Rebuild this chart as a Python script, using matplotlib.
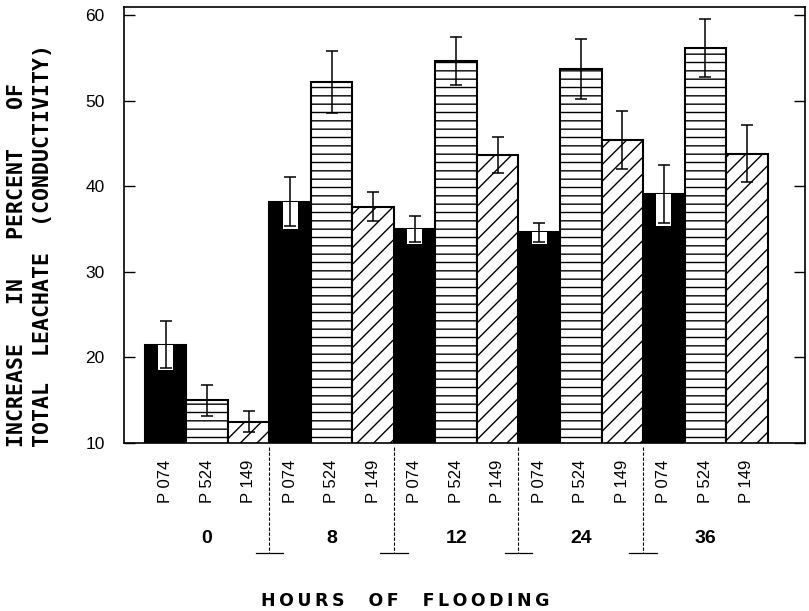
import matplotlib
matplotlib.use("Agg")
import matplotlib.pyplot as plt
import matplotlib.transforms as mtransforms

# data
hours = ["0", "8", "12", "24", "36"]
lines = ["P 074", "P 524", "P 149"]
p074 = [21.5, 38.2, 35.0, 34.6, 39.1]
p524 = [15.0, 52.2, 54.6, 53.7, 56.1]
p149 = [12.5, 37.6, 43.6, 45.4, 43.8]
p074_err = [2.7, 2.9, 1.5, 1.1, 3.4]
p524_err = [1.8, 3.6, 2.8, 3.5, 3.4]
p149_err = [1.2, 1.7, 2.1, 3.4, 3.3]

series = [p074, p524, p149]
errors = [p074_err, p524_err, p149_err]
hatches = [None, "--", "//"]
faces = ["black", "white", "white"]

plt.rcParams["hatch.linewidth"] = 1.0
plt.rcParams["font.family"] = "Liberation Sans"

fig = plt.figure(figsize=(8.09, 6.11), dpi=100)
ax = fig.add_axes([124/809, 168/611, 681/809, 436/611])

ng = len(hours)
ns = len(lines)
for j in range(ns):
    xs = [g*ns + j for g in range(ng)]
    ax.bar(xs, series[j], width=1.0, bottom=0, color=faces[j], edgecolor="black",
           hatch=hatches[j], linewidth=1.5, zorder=2)
    if j == 0:
        # white window behind the lower half of the error bar on solid bars
        low = [v - e - 0.3 for v, e in zip(series[j], errors[j])]
        ax.bar(xs, [v - l for v, l in zip(series[j], low)], width=0.36, bottom=low,
               color="white", edgecolor="none", zorder=3)
    ax.errorbar(xs, series[j], yerr=errors[j], fmt="none", ecolor="black",
                elinewidth=1.1, capsize=4, capthick=1.1, zorder=4)

ax.set_xlim(-1.0, 15.4)
ax.set_ylim(10, 60.93)
ax.set_yticks([10, 20, 30, 40, 50, 60])
ax.tick_params(axis="y", direction="in", length=8, width=1, right=True,
               labelsize=12.5, pad=14)
ax.set_xticks(range(ng*ns))
ax.set_xticklabels(lines*ng, rotation=90, fontsize=12, va="top")
ax.tick_params(axis="x", length=0, pad=12)
for s in ax.spines.values():
    s.set_linewidth(1.2)

trans = mtransforms.blended_transform_factory(ax.transData, ax.transAxes)
for g in range(1, ng):
    xb = g*ns - 0.5
    ax.plot([xb, xb], [-0.01, -0.252], transform=trans, color="black",
            lw=0.8, ls=(0, (3, 1.5)), clip_on=False)
    ax.plot([xb - 0.33, xb + 0.33], [-0.252, -0.252], transform=trans,
            color="black", lw=0.9, clip_on=False)
for g in range(ng):
    ax.text(g*ns + 1, -0.22, hours[g], transform=trans, ha="center",
            va="center", fontsize=14, fontweight="bold")

fig.text(17/809, 1 - 447/611, "INCREASE   IN   PERCENT   OF", rotation=90,
         ha="center", va="bottom", family="DejaVu Sans Mono", fontweight="bold",
         fontsize=15.5)
fig.text(43/809, 1 - 447/611, "TOTAL  LEACHATE  (CONDUCTIVITY)", rotation=90,
         ha="center", va="bottom", family="DejaVu Sans Mono", fontweight="bold",
         fontsize=15.5)
fig.text(405/809, 1 - 601/611, "\u2009".join("HOURS") + "    " + "\u2009".join("OF")
         + "    " + "\u2009".join("FLOODING"), ha="center", va="center",
         family="DejaVu Sans", fontweight="bold", fontsize=12.5)

fig.savefig("out.png", dpi=100)
